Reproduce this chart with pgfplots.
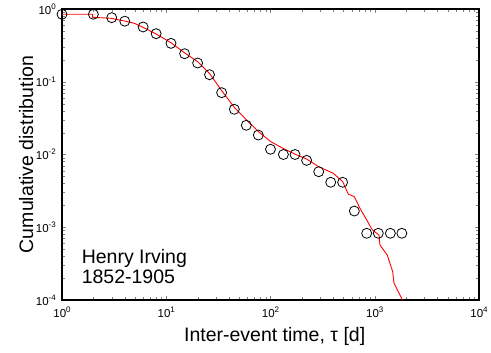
\documentclass[border=0pt]{standalone}
\usepackage{fontspec}
\setmainfont{Liberation Sans}
\usepackage{pgfplots}
\pgfplotsset{compat=1.18}
\newcommand{\tlab}[1]{10\raisebox{0.42em}{\fontsize{8}{9}\selectfont #1}}
\begin{document}
\begin{tikzpicture}
\begin{axis}[
  name=ax,
  scale only axis, width=417pt, height=291pt,
  xmode=log, ymode=log, log basis x=10, log basis y=10,
  xmin=1, xmax=10000, ymin=1e-4, ymax=1,
  xticklabel={\pgfmathparse{int(round(\tick))}\tlab{\pgfmathresult}},
  yticklabel={\pgfmathparse{int(round(\tick))}\tlab{\pgfmathresult}},
  every outer x axis line/.append style={line width=1.2pt},
  every outer y axis line/.append style={line width=1.2pt},
  tick label style={font=\fontsize{11.5}{13}\selectfont},
  xticklabel style={inner sep=0pt, anchor=north, yshift=-7pt},
  yticklabel style={inner sep=0pt, anchor=east, xshift=-6pt},
  xlabel={Inter-event time, τ [d]},
  ylabel={Cumulative distribution},
  label style={font=\fontsize{19.5}{22}\selectfont},
  xlabel style={at={(axis description cs:0.51,-0.141)}, anchor=base},
  ylabel style={at={(axis description cs:-0.0695,0.5)}, anchor=base},
  clip=false,
]
\addplot[red, line width=0.9pt] coordinates {
(1,0.846) (1.97,0.846) (1.97,0.769) (2.95,0.745) (3.99,0.684) (4.94,0.636)
(5.98,0.560) (7.92,0.457) (11.1,0.344) (14.9,0.251) (20.0,0.189) (25.9,0.131)
(34.0,0.0754) (45.0,0.0445) (58.9,0.0298) (76.4,0.0207) (100,0.0151) (131,0.0122)
(172,0.0101) (222,0.00867) (290,0.00679) (400,0.00552) (493,0.00423) (557,0.00286)
(637,0.00263) (722,0.00182) (837,0.00126) (948,0.000917) (1099,0.000782) (1122,0.00057)
(1318,0.000416) (1486,0.000245) (1530,0.00017) (1845,0.0001)
};
\addplot[only marks, mark=o, mark size=5pt, black, line width=0.8pt] coordinates {
(1,0.846) (2,0.846) (3,0.76) (4,0.68) (6,0.566) (8,0.458) (11.1,0.337) (15,0.243)
(20,0.181) (26,0.125) (34,0.0708) (45,0.0418) (58.6,0.0252) (76.4,0.0185) (100,0.0118)
(133,0.01) (172,0.01) (222,0.0083) (290,0.0058) (378,0.00415) (492,0.00415) (637,0.00167)
(837,0.000826) (1082,0.000826) (1412,0.000826) (1820,0.000826)
};
\node[anchor=base west, font=\fontsize{19.5}{22}\selectfont, inner sep=0pt] at (rel axis cs:0.047,0.126) {Henry Irving};
\node[anchor=base west, font=\fontsize{19.5}{22}\selectfont, inner sep=0pt] at (rel axis cs:0.047,0.057) {1852-1905};
\end{axis}
\pgfresetboundingbox
\path ([xshift=-62pt,yshift=-53pt]ax.south west) rectangle ([xshift=12pt,yshift=9pt]ax.north east);
\end{tikzpicture}
\end{document}
